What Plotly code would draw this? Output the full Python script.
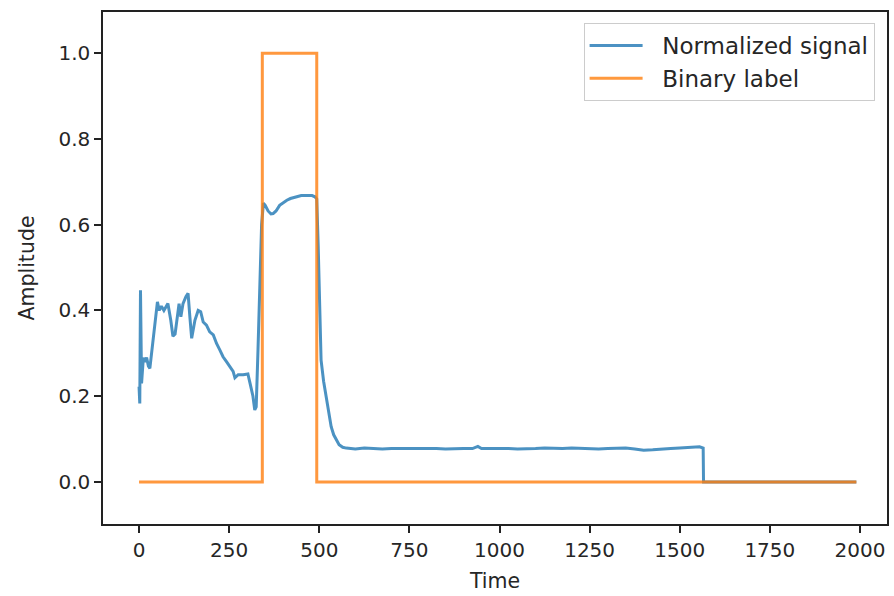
import plotly.graph_objects as go

# ---- data ----
signal_t = [0, 2, 4, 5, 7, 12, 16, 21, 26, 30, 35, 40, 45, 51, 56, 62, 69, 75, 80, 88, 94,
            100, 106, 111, 116, 122, 130, 136, 141, 146, 155, 164, 171, 178, 187, 196, 206,
            215, 224, 233, 243, 252, 261, 266, 275, 289, 302, 308, 316, 321, 325, 330, 335,
            340, 345, 350, 358, 366, 372, 380, 390, 400, 410, 420, 435, 450, 465, 480, 488,
            493, 497, 500, 505, 512, 519, 526, 533, 540, 547, 555, 565, 575,
            600, 625, 650, 675, 700, 725, 750, 775, 800, 825, 850, 875, 900, 925, 940, 950,
            975, 1000, 1025, 1050, 1075, 1100, 1125, 1150, 1175, 1200, 1225, 1250, 1275,
            1300, 1325, 1350, 1375, 1400, 1425, 1450, 1475, 1500, 1525, 1540, 1555, 1565,
            1566, 1990]
signal_v = [0.222, 0.183, 0.447, 0.385, 0.230, 0.290, 0.280, 0.290, 0.270, 0.265, 0.300, 0.330,
            0.370, 0.420, 0.400, 0.410, 0.400, 0.410, 0.416, 0.377, 0.340,
            0.345, 0.385, 0.416, 0.385, 0.416, 0.432, 0.440, 0.385, 0.335, 0.377, 0.400, 0.397,
            0.373, 0.366, 0.350, 0.343, 0.323, 0.308, 0.292, 0.280, 0.270, 0.258, 0.243, 0.250,
            0.250, 0.252, 0.230, 0.200, 0.168, 0.175, 0.308, 0.447,
            0.600, 0.650, 0.645, 0.632, 0.625, 0.626, 0.632, 0.645, 0.652, 0.657, 0.661, 0.665,
            0.668, 0.668, 0.668, 0.665, 0.660, 0.550, 0.430, 0.284, 0.235, 0.199, 0.160, 0.129,
            0.110, 0.098, 0.087, 0.081, 0.079,
            0.077, 0.079, 0.078, 0.077, 0.078, 0.078, 0.079, 0.079, 0.078, 0.078, 0.077, 0.078,
            0.078, 0.078, 0.083, 0.078, 0.078, 0.079, 0.078, 0.077, 0.077, 0.078, 0.079, 0.078,
            0.078, 0.079, 0.078, 0.078, 0.077, 0.078, 0.078, 0.079, 0.077, 0.074, 0.075, 0.077,
            0.078, 0.079, 0.080, 0.081, 0.082, 0.079,
            0.0, 0.0]

label_t = [0, 342, 342, 493, 493, 1990]
label_v = [0, 0, 1, 1, 0, 0]

series_names = ["Normalized signal", "Binary label"]

x_ticks = [0, 250, 500, 750, 1000, 1250, 1500, 1750, 2000]
y_ticks = [0.0, 0.2, 0.4, 0.6, 0.8, 1.0]
y_tick_text = ["0.0", "0.2", "0.4", "0.6", "0.8", "1.0"]

font_family = "DejaVu Sans"
name_pad = "\u00a0\u00a0"

fig = go.Figure()
fig.add_trace(go.Scatter(x=signal_t, y=signal_v, mode="lines", name=name_pad + series_names[0],
                         line=dict(color="#1f77b4", width=3), opacity=0.8))
fig.add_trace(go.Scatter(x=label_t, y=label_v, mode="lines", name=name_pad + series_names[1],
                         line=dict(color="#ff7f0e", width=3), opacity=0.8))

axis_common = dict(showgrid=False, zeroline=False, showline=True, mirror=True,
                   linecolor="#222222", linewidth=1.5, ticks="outside", ticklen=7,
                   tickwidth=1.5, tickcolor="#222222",
                   tickfont=dict(family=font_family, size=20, color="#262626"))

fig.update_xaxes(range=[-100, 2075], tickvals=x_ticks, ticktext=[str(v) for v in x_ticks],
                 title=dict(text="Time", font=dict(family=font_family, size=20.5, color="#262626"),
                            standoff=13),
                 **axis_common)
fig.update_yaxes(range=[-0.098, 1.096], tickvals=y_ticks, ticktext=y_tick_text,
                 title=dict(text="Amplitude", font=dict(family=font_family, size=20.5, color="#262626"),
                            standoff=18),
                 **axis_common)

fig.update_layout(
    width=894, height=596,
    margin=dict(l=103, r=5, t=12, b=72, pad=0),
    plot_bgcolor="white", paper_bgcolor="white",
    font=dict(family=font_family, color="#262626"),
    legend=dict(x=0.613, y=0.9785, xanchor="left", yanchor="top",
                bgcolor="rgba(255,255,255,0.8)", bordercolor="#cccccc", borderwidth=1,
                font=dict(family=font_family, size=23, color="#262626"),
                itemwidth=53),
    showlegend=True,
)

fig.write_html("out.html")
